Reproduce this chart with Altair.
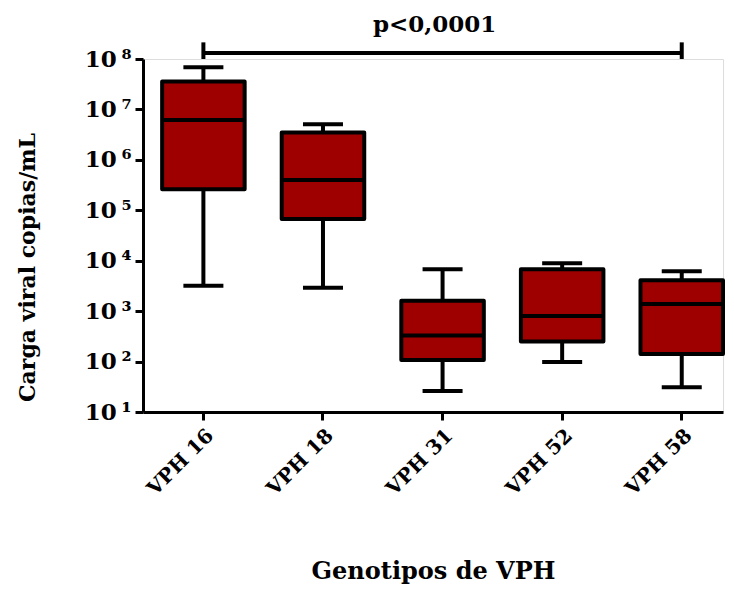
import altair as alt
import pandas as pd

categories = ["VPH 16", "VPH 18", "VPH 31", "VPH 52", "VPH 58"]
whisker_low = [3.2e3, 2.9e3, 26, 98, 31]
q1 = [2.6e5, 6.7e4, 107, 250, 141]
median = [6.2e6, 4.0e5, 330, 800, 1380]
q3 = [3.6e7, 3.5e6, 1.6e3, 6.8e3, 4.1e3]
whisker_high = [6.9e7, 5.1e6, 6.8e3, 8.9e3, 6.2e3]

y_ticks = [1e1, 1e2, 1e3, 1e4, 1e5, 1e6, 1e7, 1e8]
sig_label = "p<0,0001"
sig_from, sig_to = "VPH 16", "VPH 58"
sig_level = 10 ** 8.12
sig_cap_low, sig_cap_high = 10 ** 8.0, 10 ** 8.33
sig_text_level = 10 ** 8.68

FONT = "DejaVu Serif"
RED = "#9e0000"

df = pd.DataFrame({
    "cat": categories, "lo": whisker_low, "q1": q1, "med": median,
    "q3": q3, "hi": whisker_high,
})
bracket = pd.DataFrame({"cat": [sig_from, sig_to], "y": [sig_level, sig_level],
                        "y0": [sig_cap_low] * 2, "y1": [sig_cap_high] * 2})
label_df = pd.DataFrame({"cat": ["VPH 31"], "y": [sig_text_level], "t": [sig_label]})

xscale = alt.Scale(domain=categories, paddingInner=0.31, paddingOuter=0.08, align=1)
yscale = alt.Scale(type="log", domain=[10, 1e8], nice=False)

x_axis = alt.Axis(labelAngle=-45, labelFont=FONT, labelFontWeight="bold",
                  labelFontSize=20, labelColor="black", labelPadding=5,
                  title="Genotipos de VPH", titleFont=FONT, titleFontWeight="bold",
                  titleFontSize=24, titleColor="black", titlePadding=61,
                  domainColor="black", domainWidth=3, tickColor="black",
                  tickWidth=3, tickSize=8)
sup = "['⁰','¹','²','³','⁴','⁵','⁶','⁷','⁸','⁹'][round(log(datum.value)/LN10)]"
y_axis = alt.Axis(values=y_ticks, labelExpr="'10\u2009' + " + sup, labelFont=FONT,
                  labelFontWeight="bold", labelFontSize=23, labelColor="black",
                  labelPadding=4, title="Carga viral copias/mL", titleFont=FONT,
                  titleFontWeight="bold", titleFontSize=22, titleColor="black",
                  titleX=-104, titleY=208, domainColor="black", domainWidth=3,
                  tickColor="black", tickWidth=3, tickSize=8, grid=False)

base = alt.Chart(df)
X = alt.X("cat:N", scale=xscale, axis=x_axis, sort=categories)

whisk = base.mark_rule(color="black", strokeWidth=4).encode(
    x=X, y=alt.Y("lo:Q", scale=yscale, axis=y_axis), y2="hi:Q")
caps_lo = base.mark_tick(color="black", size=40, thickness=4, opacity=1).encode(
    x=X, y=alt.Y("lo:Q", scale=yscale))
caps_hi = base.mark_tick(color="black", size=40, thickness=4, opacity=1).encode(
    x=X, y=alt.Y("hi:Q", scale=yscale))
box = base.mark_bar(fill=RED, stroke="black", strokeWidth=4, strokeJoin="round",
                    opacity=1).encode(
    x=X, y=alt.Y("q1:Q", scale=yscale), y2="q3:Q")
med = base.mark_tick(color="black", size=80, thickness=4, opacity=1).encode(
    x=X, y=alt.Y("med:Q", scale=yscale))

br_line = alt.Chart(bracket).mark_line(color="black", strokeWidth=4, clip=False).encode(
    x=alt.X("cat:N", scale=xscale, sort=categories), y=alt.Y("y:Q", scale=yscale))
br_caps = alt.Chart(bracket).mark_rule(color="black", strokeWidth=4, clip=False).encode(
    x=alt.X("cat:N", scale=xscale, sort=categories), y=alt.Y("y0:Q", scale=yscale), y2="y1:Q")
br_text = alt.Chart(label_df).mark_text(font=FONT, fontWeight="bold", fontSize=23,
                                        color="black", dx=-8, clip=False).encode(
    x=alt.X("cat:N", scale=xscale, sort=categories), y=alt.Y("y:Q", scale=yscale), text="t:N")

chart = alt.layer(whisk, caps_lo, caps_hi, box, med, br_line, br_caps, br_text).properties(
    width=580, height=353,
    padding={"left": 7, "top": 5, "right": 0, "bottom": 0},
).configure_view(stroke=None).configure(background="white")

chart.save("out.html", embed_options={"renderer": "svg", "actions": False})
